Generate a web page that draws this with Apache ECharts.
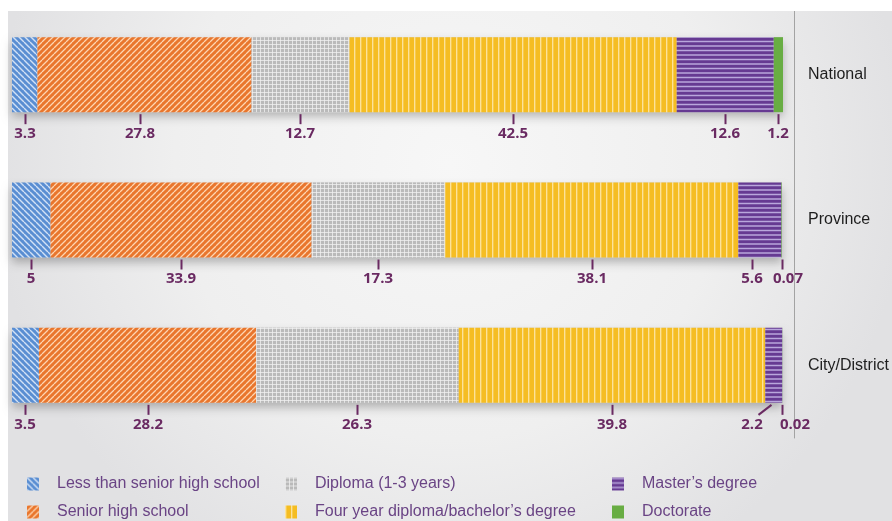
<!DOCTYPE html>
<html>
<head>
<meta charset="utf-8">
<script src="https://cdn.jsdelivr.net/npm/echarts@6/dist/echarts.min.js"></script>
<style>
  html, body { margin: 0; padding: 0; background: #ffffff; }
  #chart { width: 892px; height: 521px; }
</style>
</head>
<body>
<div id="chart"></div>
<script>
// Education level of staff, share in percent, by administrative level
const categories = ['National', 'Province', 'City/District'];
const levelNames = [
  'Less than senior high school',
  'Senior high school',
  'Diploma (1-3 years)',
  'Four year diploma/bachelor\u2019s degree',
  'Master\u2019s degree',
  'Doctorate'
];
const lessThanSeniorHigh = [3.3, 5, 3.5];
const seniorHigh = [27.8, 33.9, 28.2];
const diploma = [12.7, 17.3, 26.3];
const bachelor = [42.5, 38.1, 39.8];
const masters = [12.6, 5.6, 2.2];
const doctorate = [1.2, 0.07, 0.02];

const levelValues = [lessThanSeniorHigh, seniorHigh, diploma, bachelor, masters, doctorate];

// ---- fill patterns -------------------------------------------------------
function tile(w, h, base, draw) {
  const c = document.createElement('canvas');
  c.width = w; c.height = h;
  const g = c.getContext('2d');
  g.fillStyle = base;
  g.fillRect(0, 0, w, h);
  if (draw) draw(g, w, h);
  return { image: c, repeat: 'repeat' };
}
const fills = [
  // blue, "\" stripes
  tile(6, 6, '#5a8ed2', (g, w, h) => {
    g.strokeStyle = 'rgba(232,240,252,0.85)'; g.lineWidth = 1.4; g.beginPath();
    for (const o of [-w, 0, w]) { g.moveTo(o, 0); g.lineTo(o + w, h); }
    g.stroke();
  }),
  // orange, "/" stripes
  tile(6, 6, '#e9762d', (g, w, h) => {
    g.strokeStyle = 'rgba(255,222,190,0.92)'; g.lineWidth = 1.3; g.beginPath();
    for (const o of [-w, 0, w]) { g.moveTo(o, h); g.lineTo(o + w, 0); }
    g.stroke();
  }),
  // grey grid
  tile(4, 4, '#bababa', (g) => {
    g.strokeStyle = 'rgba(242,242,242,0.75)'; g.lineWidth = 1; g.beginPath();
    g.moveTo(0.5, 0); g.lineTo(0.5, 4); g.moveTo(0, 0.5); g.lineTo(4, 0.5);
    g.stroke();
  }),
  // yellow, vertical lines
  tile(6, 6, '#f5bd22', (g) => {
    g.strokeStyle = '#fde4a0'; g.lineWidth = 1.3; g.beginPath();
    g.moveTo(0.7, 0); g.lineTo(0.7, 6); g.stroke();
  }),
  // purple, horizontal lines
  tile(9, 9, '#663a92', (g) => {
    g.strokeStyle = '#b9a7dc'; g.lineWidth = 1.3; g.beginPath();
    g.moveTo(0, 1); g.lineTo(9, 1); g.moveTo(0, 5.5); g.lineTo(9, 5.5); g.stroke();
  }),
  // green, plain
  '#68ad43'
];

// ---- layout constants ----------------------------------------------------
const BAR_HEIGHT = 75;
const labelColor = '#6a2a62';

// label nudges for crowded segments:
// key "row-level" -> [tick top dx, tick bottom dx, text dx]
const labelNudge = {
  '0-1': [-4, -4, -4],
  '1-4': [-8, -8, -8],
  '1-5': [0, 0, 6],
  '2-4': [-3, -16, -22],
  '2-5': [0, 0, 13]
};

// ---- series ---------------------------------------------------------------
const totals = categories.map((_, i) => levelValues.reduce((s, arr) => s + arr[i], 0));

const series = [];
// soft drop shadow underneath each full bar
series.push({
  name: 'total',
  type: 'bar',
  data: totals,
  barWidth: BAR_HEIGHT,
  barGap: '-100%',
  silent: true,
  itemStyle: {
    color: '#cfcfcf',
    shadowColor: 'rgba(0,0,0,0.26)',
    shadowBlur: 9,
    shadowOffsetY: 5
  },
  z: 1
});

levelNames.forEach((name, li) => {
  series.push({
    name: name,
    type: 'bar',
    stack: 'share',
    data: levelValues[li],
    barWidth: BAR_HEIGHT,
    barGap: '-100%',
    itemStyle: { color: fills[li] },
    emphasis: { disabled: true },
    z: 2
  });
});

// value labels with small tick marks under each segment
const labelData = [];
categories.forEach((_, row) => {
  let start = 0;
  levelValues.forEach((arr, li) => {
    const v = arr[row];
    labelData.push([start, start + v, row, v, li]);
    start += v;
  });
});

series.push({
  name: 'values',
  type: 'custom',
  data: labelData,
  encode: { x: [0, 1], y: 2 },
  clip: false,
  silent: true,
  z: 5,
  renderItem: function (params, api) {
    const s = api.value(0), e = api.value(1), row = api.value(2);
    const v = api.value(3), li = api.value(4);
    const c = api.coord([(s + e) / 2, row]);
    const nudge = labelNudge[row + '-' + li] || [0, 0, 0];
    const bottom = c[1] + BAR_HEIGHT / 2;
    const xTop = Math.round(c[0] + nudge[0]) + 0.5;
    const xBot = Math.round(c[0] + nudge[1]) + 0.5;
    const xText = Math.round(c[0] + nudge[2]);
    return {
      type: 'group',
      children: [
        {
          type: 'line',
          shape: { x1: xTop, y1: bottom + 2, x2: xBot, y2: bottom + 12 },
          style: { stroke: labelColor, lineWidth: 2 }
        },
        {
          type: 'text',
          x: xText,
          y: bottom + 14,
          style: {
            text: String(v),
            fill: labelColor,
            font: 'bold 15px "Open Sans", sans-serif',
            align: 'center',
            verticalAlign: 'top'
          }
        }
      ]
    };
  }
});

// ---- legends: three columns of two --------------------------------------
const legendCommon = {
  orient: 'vertical',
  top: 476,
  height: 80,
  padding: 0,
  itemWidth: 12,
  itemHeight: 13,
  itemGap: 12,
  icon: 'rect',
  selectedMode: false,
  itemStyle: { shadowBlur: 0, shadowColor: 'transparent', borderWidth: 0 },
  textStyle: {
    color: '#6a4485',
    fontSize: 16,
    lineHeight: 16,
    fontFamily: '"Liberation Sans", Arial, sans-serif',
    padding: [0, 0, 0, 13]
  }
};

const option = {
  animation: false,
  backgroundColor: '#ffffff',
  graphic: [
    {
      type: 'rect',
      z: -10,
      silent: true,
      shape: { x: 8, y: 11, width: 884, height: 510 },
      style: {
        fill: {
          type: 'radial', x: 0.5, y: 0.3, r: 0.9,
          colorStops: [
            { offset: 0, color: '#f7f7f7' },
            { offset: 0.6, color: '#efefef' },
            { offset: 1, color: '#e1e1e3' }
          ]
        }
      }
    },
    {
      type: 'rect',
      z: 100,
      silent: true,
      shape: { x: 0, y: 0, width: 892, height: 11 },
      style: { fill: '#ffffff' }
    }
  ],
  grid: { left: 12, right: 109, top: 2, height: 436, containLabel: false },
  xAxis: { type: 'value', min: 0, max: 100.1, show: false },
  yAxis: {
    type: 'category',
    data: categories,
    inverse: true,
    position: 'right',
    offset: 11,
    axisLine: { show: true, onZero: false, lineStyle: { color: '#a3a3a3', width: 1 } },
    axisTick: { show: false },
    axisLabel: {
      margin: 14,
      color: '#1e1e1e',
      fontSize: 16,
      fontFamily: '"Liberation Sans", Arial, sans-serif'
    }
  },
  legend: [
    Object.assign({}, legendCommon, { left: 27, data: [levelNames[0], levelNames[1]] }),
    Object.assign({}, legendCommon, { left: 285, data: [levelNames[2], levelNames[3]] }),
    Object.assign({}, legendCommon, { left: 612, data: [levelNames[4], levelNames[5]] })
  ],
  series: series
};

const chart = echarts.init(document.getElementById('chart'), null, { renderer: 'canvas' });
chart.setOption(option);
</script>
</body>
</html>
